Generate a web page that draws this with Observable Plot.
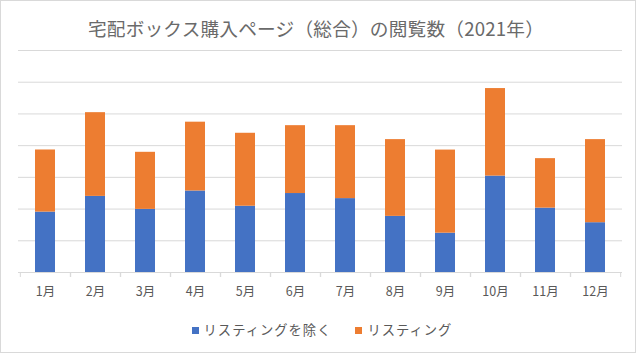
<!DOCTYPE html>
<html>
<head>
<meta charset="utf-8">
<script src="https://cdn.jsdelivr.net/npm/d3@7"></script>
<script src="https://cdn.jsdelivr.net/npm/@observablehq/plot@0.6"></script>
<style>
  body { margin: 0; background: #fff; font-family: "Noto Sans CJK JP", "Noto Sans", sans-serif; }
  #frame { position: absolute; left: 0; top: 0; width: 636px; height: 353px; box-sizing: border-box; border: 1px solid #d9d9d9; }
  #title { position: absolute; left: 0; width: 632px; top: 17px; line-height: 22px; text-align: center; font-size: 18.67px; color: #6a6a6a; letter-spacing: 0.2px; }
  #chart { position: absolute; left: 0; top: 40px; }
  #legend { position: absolute; left: 0; width: 644px; top: 321px; line-height: 18px; text-align: center; font-size: 13.3px; color: #595959; letter-spacing: 1px; }
  .sw { display: inline-block; width: 7px; height: 7px; margin-right: 5px; vertical-align: 1px; }
  .item { margin: 0 12px; }
</style>
</head>
<body>
<div id="frame"></div>
<div id="title"></div>
<div id="chart"></div>
<div id="legend"></div>
<script>
const titleText = "宅配ボックス購入ページ（総合）の閲覧数（2021年）";
const months = ["1月","2月","3月","4月","5月","6月","7月","8月","9月","10月","11月","12月"];
const seriesNames = ["リスティングを除く", "リスティング"];
const seriesColors = ["#4472C4", "#ED7D31"];
// values (gridline step = 1000, no axis labels shown)
const excludingListing = [1905, 2400, 1990, 2570, 2090, 2490, 2330, 1770, 1240, 3040, 2030, 1570];
const listing          = [1958, 2640, 1800, 2170, 2300, 2140, 2300, 2420, 2620, 2760, 1560, 2620];
const yGridTicks = [0, 1000, 2000, 3000, 4000, 5000, 6000, 7000];

const rows = [];
months.forEach((m, i) => {
  rows.push({month: m, series: seriesNames[0], value: excludingListing[i]});
  rows.push({month: m, series: seriesNames[1], value: listing[i]});
});

const W = 640, H = 270, mL = 18, mR = 18, mT = 10, mB = 38;
const step = (W - mL - mR) / months.length;

const chart = Plot.plot({
  width: W, height: H,
  marginLeft: mL, marginRight: mR, marginTop: mT, marginBottom: mB,
  style: {fontFamily: '"Noto Sans CJK JP", sans-serif', fontSize: "12.5px", color: "#595959", background: "transparent"},
  x: {domain: months, paddingInner: 0.6, paddingOuter: 0.3, axis: null, label: null},
  y: {domain: [0, 7000], axis: null, label: null},
  color: {domain: seriesNames, range: seriesColors},
  marks: [
    Plot.gridY(yGridTicks, {stroke: "#d9d9d9", strokeOpacity: 1}),
    Plot.barY(rows, {x: "month", y: "value", fill: "series", order: seriesNames}),
    Plot.axisX({tickSize: 5, dx: -step / 2, text: null, label: null, stroke: "#d9d9d9", strokeOpacity: 1}),
    Plot.axisX({tickSize: 5, dx: step / 2, text: null, label: null, stroke: "#d9d9d9", strokeOpacity: 1}),
    Plot.axisX({tickSize: 0, tickPadding: 15, label: null, fill: "#595959", fontSize: 12.5}),
    Plot.ruleY([0], {stroke: "#d9d9d9"})
  ]
});
document.getElementById("chart").appendChild(chart);
document.getElementById("title").textContent = titleText;

const legend = document.getElementById("legend");
seriesNames.forEach((name, i) => {
  const item = document.createElement("span");
  item.className = "item";
  const sw = document.createElement("span");
  sw.className = "sw";
  sw.style.background = seriesColors[i];
  item.appendChild(sw);
  item.appendChild(document.createTextNode(name));
  legend.appendChild(item);
});
</script>
</body>
</html>
